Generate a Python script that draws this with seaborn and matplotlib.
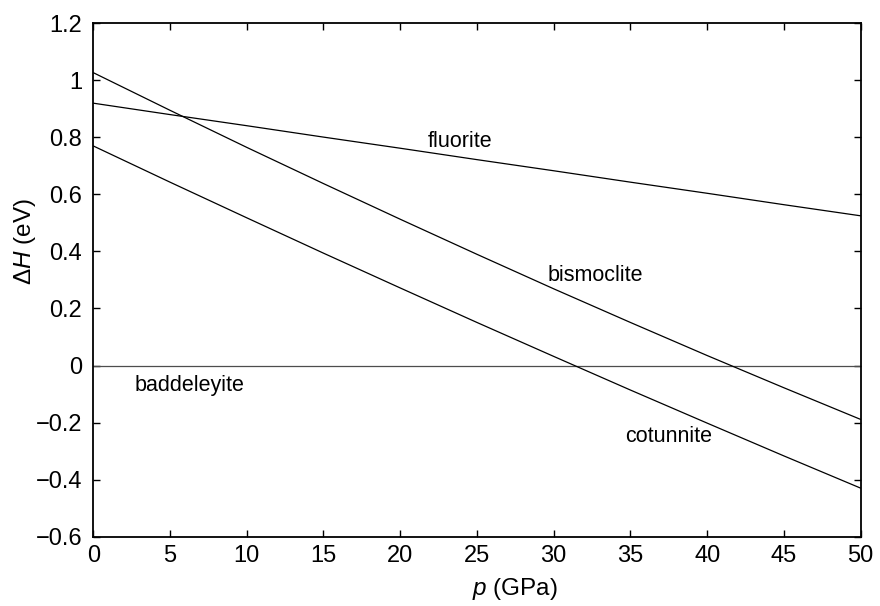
import matplotlib
matplotlib.use("Agg")
import matplotlib.pyplot as plt
import numpy as np
import pandas as pd
import seaborn as sns

# Enthalpy differences relative to baddeleyite as a function of pressure
pressure = [0, 5, 10, 15, 20, 25, 30, 35, 40, 45, 50]
baddeleyite = [0, 0, 0, 0, 0, 0, 0, 0, 0, 0, 0]
fluorite = [0.920, 0.880, 0.841, 0.801, 0.762, 0.722, 0.683, 0.643, 0.604, 0.564, 0.525]
bismoclite = [1.027, 0.895, 0.765, 0.638, 0.513, 0.390, 0.269, 0.151, 0.035, -0.078, -0.189]
cotunnite = [0.770, 0.643, 0.518, 0.394, 0.272, 0.151, 0.032, -0.086, -0.202, -0.317, -0.430]

phases = ["baddeleyite", "fluorite", "bismoclite", "cotunnite"]
label_p = [6.3, 23.9, 32.7, 37.5]
label_dh = [-0.091, 0.766, 0.295, -0.267]

x_ticks = [0, 5, 10, 15, 20, 25, 30, 35, 40, 45, 50]
y_ticks = [-0.6, -0.4, -0.2, 0, 0.2, 0.4, 0.6, 0.8, 1.0, 1.2]
y_tick_labels = ["\u22120.6", "\u22120.4", "\u22120.2", "0", "0.2", "0.4", "0.6", "0.8", "1", "1.2"]

df = pd.DataFrame({
    "p": pressure * 4,
    "dH": baddeleyite + fluorite + bismoclite + cotunnite,
    "phase": (["baddeleyite"] * len(pressure) + ["fluorite"] * len(pressure)
              + ["bismoclite"] * len(pressure) + ["cotunnite"] * len(pressure)),
})

sns.set_style("ticks")
plt.rcParams["font.family"] = ["Liberation Sans", "DejaVu Sans"]
plt.rcParams["mathtext.fontset"] = "custom"
plt.rcParams["mathtext.it"] = "Liberation Sans:italic"
plt.rcParams["mathtext.rm"] = "Liberation Sans"

fig = plt.figure(figsize=(8.8, 6.06), dpi=100)
ax = fig.add_axes([0.106, 0.1145, 0.872, 0.847])

sns.lineplot(data=df, x="p", y="dH", hue="phase", hue_order=phases,
             palette={"baddeleyite": "0.3", "fluorite": "black",
                      "bismoclite": "black", "cotunnite": "black"},
             linewidth=0.9, legend=False, ax=ax)

for name, px, py in zip(phases, label_p, label_dh):
    ax.text(px, py, name, ha="center", va="baseline", fontsize=15.5, color="black")

ax.set_xlim(0, 50)
ax.set_ylim(-0.6, 1.2)
ax.set_xticks(x_ticks)
ax.set_xticklabels([str(t) for t in x_ticks])
ax.set_yticks(y_ticks)
ax.set_yticklabels(y_tick_labels)
ax.tick_params(direction="in", length=5, width=1.0, top=True, right=True,
               labelsize=17, colors="black")
ax.tick_params(axis="y", pad=8)
ax.tick_params(axis="x", pad=6)
for s in ax.spines.values():
    s.set_visible(True)
    s.set_linewidth(1.3)
    s.set_color("black")

ax.set_xlabel("$p$ (GPa)", fontsize=17.5, color="black")
ax.set_ylabel("\u0394$H$ (eV)", fontsize=17.5, color="black")
ax.xaxis.set_label_coords(0.549, -0.076)
ax.yaxis.set_label_coords(-0.072, 0.574)

fig.savefig("out.png", dpi=100)
